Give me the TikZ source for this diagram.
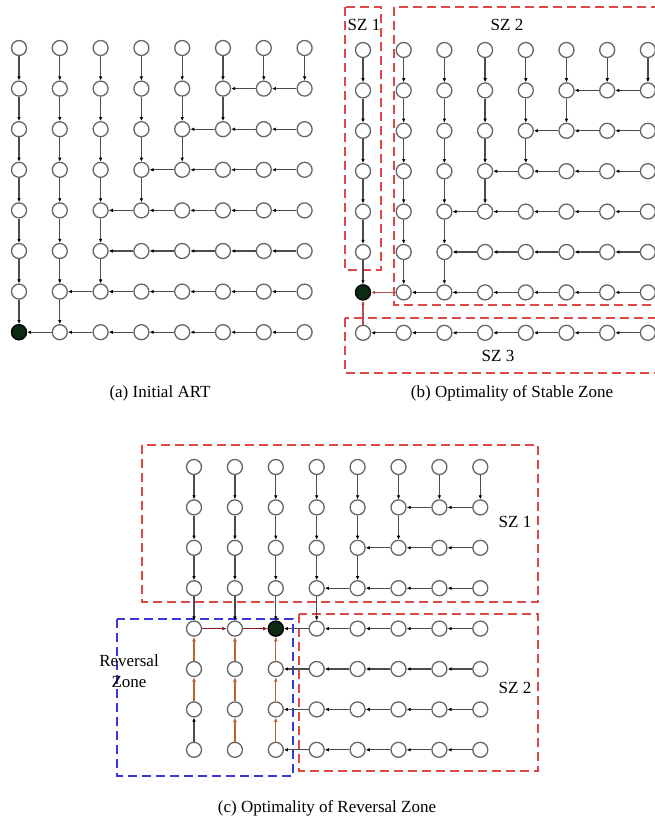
\documentclass[tikz,border=0pt]{standalone}
\usepackage{fontspec}
\setmainfont{Liberation Serif}
\usepackage{xcolor}
\usepackage{tikz}
\usetikzlibrary{arrows.meta}
\definecolor{rootgreen}{HTML}{0B2A10}
\definecolor{zonered}{HTML}{E04848}
\definecolor{zoneblue}{HTML}{3838D8}
\definecolor{stablered}{HTML}{B84A4A}
\definecolor{flipred}{HTML}{8E1C1C}
\definecolor{flipbrown}{HTML}{B8642E}

\tikzset{
  vtx/.style={circle, draw=black!60, fill=white, line width=1.3pt, minimum size=15pt, inner sep=0pt},
  rootvtx/.style={vtx, draw=black, fill=rootgreen},
  link/.style={draw=black!70, line width=1.3pt, -{Latex[length=4pt,width=3.6pt,color=black]}},
  stablelink/.style={draw=stablered, line width=1.6pt, -{Latex[length=4pt,width=3.6pt]}},
  fliplink/.style={draw=flipred, line width=1.3pt, -{Latex[length=4.5pt,width=4pt]}},
  uplink/.style={draw=flipbrown, line width=1.3pt, -{Latex[length=4.5pt,width=4pt]}},
  zone/.style={draw=zonered, line width=1.5pt, dash pattern=on 9pt off 5pt},
  revzone/.style={zone, draw=zoneblue},
  lbl/.style={font=\fontsize{17}{21}\selectfont, inner sep=0pt}
}

\begin{document}
\begin{tikzpicture}[x=1pt, y=-1pt]
  \useasboundingbox (0,0) rectangle (655,821);

  % (a) initial tree
  \foreach \i in {0,...,7}
    \foreach \j in {0,...,7}
      \node[vtx] (a-\i-\j) at ({19+40.8*\i},{48+40.6*\j}) {};
  \node[rootvtx] (a-root) at (a-0-7) {};
  \foreach \j/\h in {0/7,1/5,2/4,3/3,4/2,5/2,6/1,7/0} {
    \pgfmathtruncatemacro\jn{\j+1}
    \foreach \i in {0,...,7} {
      \pgfmathtruncatemacro\ip{\i-1}
      \ifnum\i>\h
        \draw[link] (a-\i-\j) -- (a-\ip-\j);
      \else
        \ifnum\j<7 \draw[link] (a-\i-\j) -- (a-\i-\jn); \fi
      \fi
    }
  }
  \node[lbl] (cap-a) at (160,393) {(a) Initial ART};

  % (b) stable zones
  \draw[zone] (345,7) rectangle (381,270);
  \draw[zone] (394,7) rectangle (670,305);
  \draw[zone] (345,318) rectangle (670,373);
  \foreach \i in {0,...,7}
    \foreach \j in {0,...,7}
      \node[vtx] (b-\i-\j) at ({363+40.7*\i},{50+40.4*\j}) {};
  \node[rootvtx] (b-root) at (b-0-6) {};
  \foreach \j/\h in {0/7,1/5,2/4,3/3,4/2,5/2,6/1,7/0} {
    \pgfmathtruncatemacro\jn{\j+1}
    \foreach \i in {0,...,7} {
      \pgfmathtruncatemacro\ip{\i-1}
      \ifnum\i>\h
        \draw[link] (b-\i-\j) -- (b-\ip-\j);
      \else
        \ifnum\j<6 \draw[link] (b-\i-\j) -- (b-\i-\jn); \fi
      \fi
    }
  }
  \draw[stablelink] (b-1-6) -- (b-root);
  \draw[stablelink] (b-0-7) -- (b-root);
  \node[lbl] (sz-b1) at (364,25) {SZ 1};
  \node[lbl] (sz-b2) at (507,25) {SZ 2};
  \node[lbl] (sz-b3) at (498,356) {SZ 3};
  \node[lbl] (cap-b) at (512,393) {(b) Optimality of Stable Zone};

  % (c) reversal zone
  \draw[zone] (142,445) rectangle (538,602);
  \draw[zone] (299,614) rectangle (538,771);
  \draw[revzone] (117,619) rectangle (293,776);
  \foreach \i in {0,...,7}
    \foreach \j in {0,...,7}
      \node[vtx] (c-\i-\j) at ({194+40.9*\i},{467+40.4*\j}) {};
  \node[rootvtx] (c-root) at (c-2-4) {};
  \foreach \j/\h in {0/7,1/5,2/4,3/3,4/2,5/2,6/2,7/2} {
    \pgfmathtruncatemacro\jn{\j+1}
    \foreach \i in {0,...,7} {
      \pgfmathtruncatemacro\ip{\i-1}
      \ifnum\i>\h
        \draw[link] (c-\i-\j) -- (c-\ip-\j);
      \else
        \ifnum\j<4 \draw[link] (c-\i-\j) -- (c-\i-\jn); \fi
      \fi
    }
  }
  \draw[fliplink] (c-0-4) -- (c-1-4);
  \draw[fliplink] (c-1-4) -- (c-root);
  \draw[link] (c-0-7) -- (c-0-6);
  \foreach \i/\from in {0/6,1/7,2/7}
    \foreach \j in {\from,...,5} {
      \pgfmathtruncatemacro\jp{\j-1}
      \draw[uplink] (c-\i-\j) -- (c-\i-\jp);
    }
  \node[lbl] (sz-c1) at (515,522) {SZ 1};
  \node[lbl] (sz-c2) at (515,688) {SZ 2};
  \node[lbl, align=center] (rev-lbl) at (129,671) {Reversal\\Zone};
  \node[lbl] (cap-c) at (327,808) {(c) Optimality of Reversal Zone};
\end{tikzpicture}
\end{document}
